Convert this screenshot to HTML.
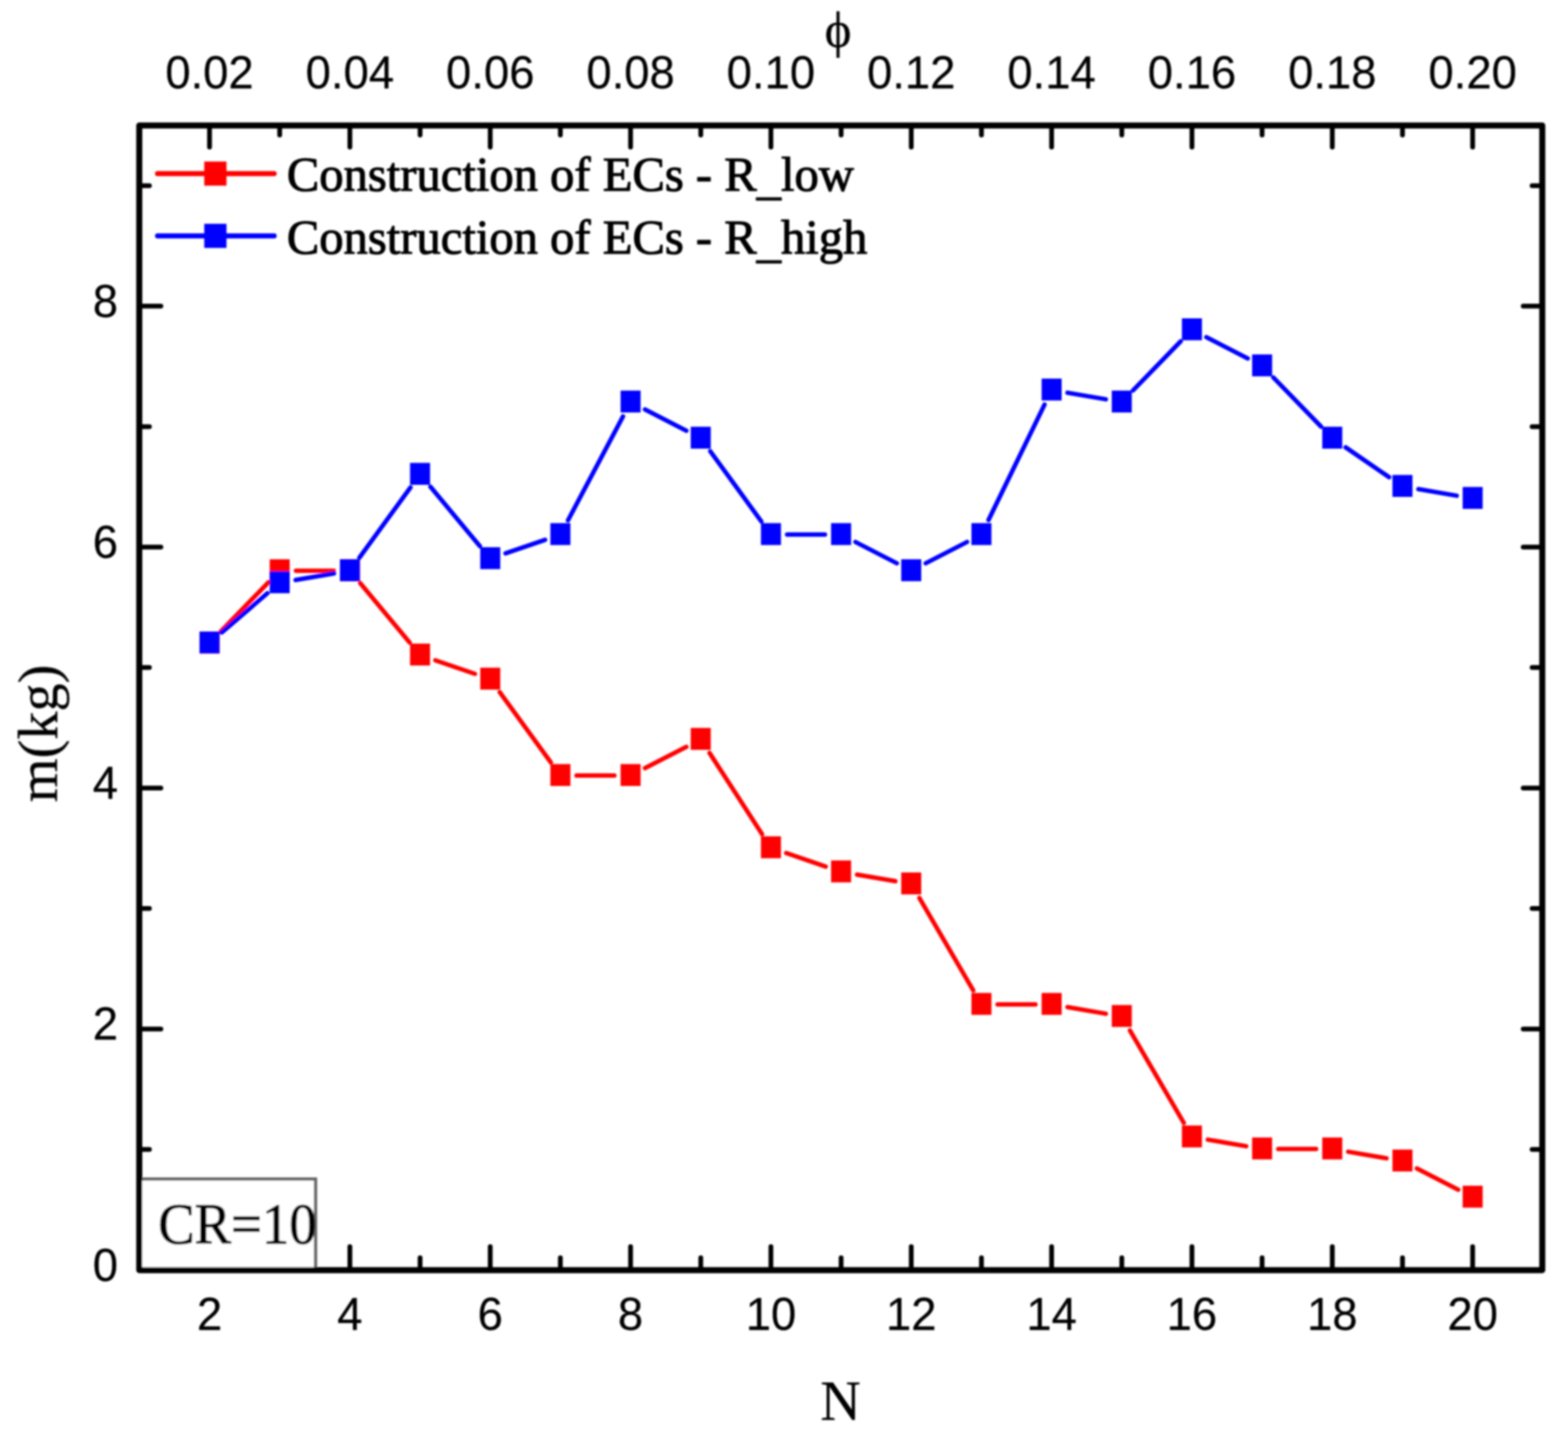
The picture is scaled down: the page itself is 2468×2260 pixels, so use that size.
<!DOCTYPE html><html><head><meta charset="utf-8"><style>html,body{margin:0;padding:0;background:#fff;overflow:hidden}svg{display:block}.sf{stroke:#000;stroke-width:1.6px;stroke-linejoin:round}.st{stroke:#000;stroke-width:0.4px;stroke-linejoin:round}.ss{stroke:#000;stroke-width:0.3px;stroke-linejoin:round}</style></head><body>
<svg width="2468" height="2260" viewBox="0 0 2468 2260">
<defs><filter id="soft" x="0" y="0" width="2468" height="2260" filterUnits="userSpaceOnUse"><feGaussianBlur stdDeviation="1.4"/></filter></defs>
<rect width="2468" height="2260" fill="#fff"/>
<g filter="url(#soft)">
<path d="M329.8 1998.9V1961.9M329.8 197.6V231.6M440.2 1998.9V1979.4M440.2 197.6V212.6M550.7 1998.9V1961.9M550.7 197.6V231.6M661.2 1998.9V1979.4M661.2 197.6V212.6M771.6 1998.9V1961.9M771.6 197.6V231.6M882.0 1998.9V1979.4M882.0 197.6V212.6M992.5 1998.9V1961.9M992.5 197.6V231.6M1103.0 1998.9V1979.4M1103.0 197.6V212.6M1213.4 1998.9V1961.9M1213.4 197.6V231.6M1323.9 1998.9V1979.4M1323.9 197.6V212.6M1434.3 1998.9V1961.9M1434.3 197.6V231.6M1544.8 1998.9V1979.4M1544.8 197.6V212.6M1655.2 1998.9V1961.9M1655.2 197.6V231.6M1765.7 1998.9V1979.4M1765.7 197.6V212.6M1876.1 1998.9V1961.9M1876.1 197.6V231.6M1986.5 1998.9V1979.4M1986.5 197.6V212.6M2097.0 1998.9V1961.9M2097.0 197.6V231.6M2207.5 1998.9V1979.4M2207.5 197.6V212.6M2317.9 1998.9V1961.9M2317.9 197.6V231.6M219.2 1809.0H235.2M2427.5 1809.0H2411.5M219.2 1619.4H253.2M2427.5 1619.4H2397.5M219.2 1429.8H235.2M2427.5 1429.8H2411.5M219.2 1240.2H253.2M2427.5 1240.2H2397.5M219.2 1050.6H235.2M2427.5 1050.6H2411.5M219.2 861.0H253.2M2427.5 861.0H2397.5M219.2 671.4H235.2M2427.5 671.4H2411.5M219.2 481.8H253.2M2427.5 481.8H2397.5M219.2 292.2H235.2M2427.5 292.2H2411.5" stroke="#000" stroke-width="7.5" stroke-linecap="round" fill="none"/>
<path d="M347.6 993.6L422.5 916.5M465.8 898.2L525.2 898.2M567.0 917.8L644.8 1011.3M685.3 1039.2L747.5 1060.5M786.6 1089.4L867.0 1199.9M907.5 1220.5L967.0 1220.5M1015.2 1208.8L1080.3 1175.3M1116.8 1185.0L1199.5 1312.8M1237.5 1342.5L1299.7 1363.9M1349.0 1376.5L1409.2 1386.8M1447.1 1413.2L1531.9 1558.7M1570.2 1580.7L1629.7 1580.7M1680.3 1585.0L1740.5 1595.4M1778.5 1621.7L1863.3 1767.3M1901.2 1793.6L1961.4 1803.9M2012.0 1808.2L2071.5 1808.2M2122.1 1812.6L2182.3 1822.9M2230.1 1838.9L2295.2 1872.4" stroke="#ff0000" stroke-width="7" stroke-linecap="round" fill="none"/>
<g fill="#ff0000"><rect x="314.1" y="993.9" width="31.5" height="34.5"/><rect x="424.5" y="880.2" width="31.5" height="34.5"/><rect x="535.0" y="880.2" width="31.5" height="34.5"/><rect x="645.4" y="1012.9" width="31.5" height="34.5"/><rect x="755.9" y="1050.8" width="31.5" height="34.5"/><rect x="866.3" y="1202.5" width="31.5" height="34.5"/><rect x="976.8" y="1202.5" width="31.5" height="34.5"/><rect x="1087.2" y="1145.6" width="31.5" height="34.5"/><rect x="1197.7" y="1316.2" width="31.5" height="34.5"/><rect x="1308.1" y="1354.2" width="31.5" height="34.5"/><rect x="1418.5" y="1373.1" width="31.5" height="34.5"/><rect x="1529.0" y="1562.7" width="31.5" height="34.5"/><rect x="1639.5" y="1562.7" width="31.5" height="34.5"/><rect x="1749.9" y="1581.7" width="31.5" height="34.5"/><rect x="1860.3" y="1771.3" width="31.5" height="34.5"/><rect x="1970.8" y="1790.2" width="31.5" height="34.5"/><rect x="2081.2" y="1790.2" width="31.5" height="34.5"/><rect x="2191.7" y="1809.2" width="31.5" height="34.5"/><rect x="2302.2" y="1866.1" width="31.5" height="34.5"/></g>
<path d="M349.1 995.3L420.9 933.7M465.4 912.8L525.6 902.5M565.7 877.6L646.1 767.1M677.5 766.1L755.3 859.6M795.7 870.9L857.9 849.6M894.0 818.8L980.6 655.3M1015.2 644.4L1080.3 677.9M1118.0 710.2L1198.4 820.7M1238.9 841.3L1298.4 841.3M1346.5 853.0L1411.6 886.5M1457.0 886.5L1522.1 853.0M1555.9 818.4L1644.1 636.7M1680.3 618.1L1740.5 628.4M1783.4 614.4L1858.3 537.3M1898.8 530.6L1963.9 564.2M2004.3 594.1L2079.2 671.3M2118.0 704.0L2186.4 751.0M2232.6 769.8L2292.8 780.1" stroke="#0000ff" stroke-width="7" stroke-linecap="round" fill="none"/>
<g fill="#0000ff"><rect x="314.1" y="993.9" width="31.5" height="34.5"/><rect x="424.5" y="899.1" width="31.5" height="34.5"/><rect x="535.0" y="880.2" width="31.5" height="34.5"/><rect x="645.4" y="728.5" width="31.5" height="34.5"/><rect x="755.9" y="861.2" width="31.5" height="34.5"/><rect x="866.3" y="823.3" width="31.5" height="34.5"/><rect x="976.8" y="614.7" width="31.5" height="34.5"/><rect x="1087.2" y="671.6" width="31.5" height="34.5"/><rect x="1197.7" y="823.3" width="31.5" height="34.5"/><rect x="1308.1" y="823.3" width="31.5" height="34.5"/><rect x="1418.5" y="880.2" width="31.5" height="34.5"/><rect x="1529.0" y="823.3" width="31.5" height="34.5"/><rect x="1639.5" y="595.8" width="31.5" height="34.5"/><rect x="1749.9" y="614.7" width="31.5" height="34.5"/><rect x="1860.3" y="501.0" width="31.5" height="34.5"/><rect x="1970.8" y="557.8" width="31.5" height="34.5"/><rect x="2081.2" y="671.6" width="31.5" height="34.5"/><rect x="2191.7" y="747.5" width="31.5" height="34.5"/><rect x="2302.2" y="766.4" width="31.5" height="34.5"/></g>
<path d="M219.2 1855.7H496.5V1998.9" fill="none" stroke="#666" stroke-width="5.5"/>
<rect x="223.95" y="1858.2" width="270.1" height="140.7" fill="#fff"/>
<text class="sf" transform="translate(249 1957) scale(1 1.05)" font-family="Liberation Serif, serif" font-size="86" fill="#000">CR=10</text>
<rect x="219.2" y="197.6" width="2208.3" height="1801.3" fill="none" stroke="#000" stroke-width="9.5" stroke-linejoin="round"/>
<path d="M248 273.2H431.5" stroke="#ff0000" stroke-width="8" stroke-linecap="round"/>
<rect x="321.5" y="254.2" width="35" height="38" fill="#ff0000"/>
<path d="M248 371.2H431.5" stroke="#0000ff" stroke-width="8" stroke-linecap="round"/>
<rect x="321.5" y="352.2" width="35" height="38" fill="#0000ff"/>
<g class="sf" font-family="Liberation Serif, serif" font-size="76.5" fill="#000">
<text x="451.5" y="299.5">Construction of ECs - R<tspan dy="5">_</tspan><tspan dy="-5">low</tspan></text>
<text x="451.5" y="399">Construction of ECs - R<tspan dy="5">_</tspan><tspan dy="-5">high</tspan></text>
</g>
<g class="ss" font-family="Liberation Sans, Arial, sans-serif" font-size="71.5" fill="#000" text-anchor="middle">
<text x="329.8" y="2092.5">2</text>
<text x="550.7" y="2092.5">4</text>
<text x="771.6" y="2092.5">6</text>
<text x="992.5" y="2092.5">8</text>
<text x="1213.4" y="2092.5">10</text>
<text x="1434.3" y="2092.5">12</text>
<text x="1655.2" y="2092.5">14</text>
<text x="1876.1" y="2092.5">16</text>
<text x="2097.0" y="2092.5">18</text>
<text x="2317.9" y="2092.5">20</text>
<text x="329.8" y="139">0.02</text>
<text x="550.7" y="139">0.04</text>
<text x="771.6" y="139">0.06</text>
<text x="992.5" y="139">0.08</text>
<text x="1213.4" y="139">0.10</text>
<text x="1434.3" y="139">0.12</text>
<text x="1655.2" y="139">0.14</text>
<text x="1876.1" y="139">0.16</text>
<text x="2097.0" y="139">0.18</text>
<text x="2317.9" y="139">0.20</text>
</g>
<g class="ss" font-family="Liberation Sans, Arial, sans-serif" font-size="71.5" fill="#000" text-anchor="end">
<text x="185.8" y="2015.6">0</text>
<text x="185.8" y="1636.4">2</text>
<text x="185.8" y="1257.2">4</text>
<text x="185.8" y="878.0">6</text>
<text x="185.8" y="498.8">8</text>
</g>
<text class="st" x="1323" y="2234" font-family="Liberation Serif, serif" font-size="88" text-anchor="middle" fill="#000">N</text>
<text class="st" transform="translate(90 1154.3) rotate(-90)" font-family="Liberation Serif, serif" font-size="88.5" text-anchor="middle" fill="#000">m(kg)</text>
<text class="st" x="1319" y="73.5" font-family="Liberation Serif, serif" font-size="80" text-anchor="middle" fill="#000">ϕ</text>
</g>
</svg></body></html>
